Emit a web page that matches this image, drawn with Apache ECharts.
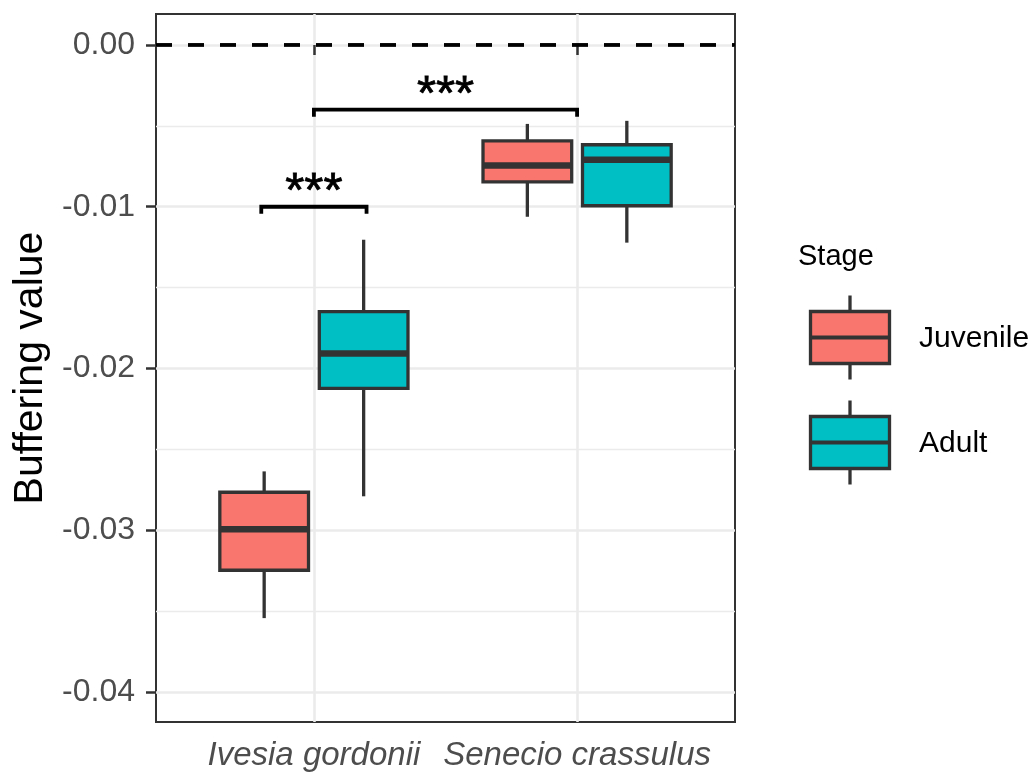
<!DOCTYPE html>
<html><head><meta charset="utf-8">
<script src="https://cdn.jsdelivr.net/npm/echarts@6/dist/echarts.min.js"></script>
<style>html,body{margin:0;padding:0;background:#fff}#c{width:1030px;height:772px}</style>
</head><body><div id="c"></div>
<script>
// ---------- data ----------
const categories = ['Ivesia gordonii', 'Senecio crassulus'];
const stages = ['Juvenile', 'Adult'];
// [lower whisker, Q1, median, Q3, upper whisker] per category
const juvenileStats = [
  [-0.03543, -0.03247, -0.02994, -0.02765, -0.02636],
  [-0.01062, -0.00846, -0.00745, -0.00593, -0.00488]
];
const adultStats = [
  [-0.02790, -0.02123, -0.01907, -0.01648, -0.01204],
  [-0.01222, -0.00994, -0.00710, -0.00617, -0.00469]
];
const yTicks = [0, -0.01, -0.02, -0.03, -0.04];
const yMinorTicks = [-0.005, -0.015, -0.025, -0.035];
const refLineY = [0];
const bracketStart = [0.8, 1.0];
const bracketEnd = [1.2, 2.0];
const bracketY = [-0.010, -0.004];
const bracketLabels = ['***', '***'];

// ---------- style ----------
const FONT = "'Liberation Sans', Arial, Helvetica, sans-serif";
const COLORS = ['#F8766D', '#00BFC4'];
const EDGE = '#333333';
const BOX_W = 0.337;
const DODGE = 0.189;
const Y_MIN = -0.041852, Y_MAX = 0.001914;
const X_MIN = 0.4, X_MAX = 2.6;
const TIP_PX = 7;

function boxRender(offset, color) {
  return function (params, api) {
    const x = api.value(0) + offset;
    const lo = api.coord([x, api.value(1)]);
    const q1 = api.coord([x, api.value(2)]);
    const md = api.coord([x, api.value(3)]);
    const q3 = api.coord([x, api.value(4)]);
    const hi = api.coord([x, api.value(5)]);
    const w = api.size([BOX_W, 0])[0];
    const cx = lo[0];
    const ls = { stroke: EDGE, lineWidth: 3.3 };
    return {
      type: 'group', children: [
        { type: 'line', shape: { x1: cx, y1: hi[1], x2: cx, y2: q3[1] }, style: ls },
        { type: 'line', shape: { x1: cx, y1: q1[1], x2: cx, y2: lo[1] }, style: ls },
        { type: 'rect', shape: { x: cx - w / 2, y: q3[1], width: w, height: q1[1] - q3[1] },
          style: { fill: color, stroke: EDGE, lineWidth: 3.3 } },
        { type: 'line', shape: { x1: cx - w / 2, y1: md[1], x2: cx + w / 2, y2: md[1] },
          style: { stroke: EDGE, lineWidth: 6.5 } }
      ]
    };
  };
}

function bracketRender(params, api) {
  const a = api.coord([api.value(0), api.value(2)]);
  const b = api.coord([api.value(1), api.value(2)]);
  const label = bracketLabels[params.dataIndex];
  return {
    type: 'group', children: [
      { type: 'polyline', shape: { points: [[a[0], a[1] + TIP_PX], [a[0], a[1]], [b[0], b[1]], [b[0], b[1] + TIP_PX]] },
        style: { stroke: '#000', lineWidth: 3.8, fill: null } },
      { type: 'text', x: (a[0] + b[0]) / 2, y: a[1] - 14,
        style: { text: label, fill: '#000', font: '49px ' + FONT, textAlign: 'center', textVerticalAlign: 'middle',
          stroke: '#000', lineWidth: 0.8 } }
    ]
  };
}

function refRender(params, api) {
  const p1 = api.coord([X_MIN, api.value(0)]);
  const p2 = api.coord([X_MAX, api.value(0)]);
  return { type: 'line', shape: { x1: p1[0], y1: p1[1], x2: p2[0], y2: p2[1] },
    style: { stroke: '#000', lineWidth: 3.8, lineDash: [16, 16] } };
}

const chart = echarts.init(document.getElementById('c'), null, { renderer: 'canvas' });

function legendKey(y0, color) {
  // y0 = top of box
  const cx = 850, x0 = 810.5, w = 79, h = 52;
  return [
    { type: 'line', shape: { x1: cx, y1: y0 - 16, x2: cx, y2: y0 }, style: { stroke: EDGE, lineWidth: 3.3 } },
    { type: 'line', shape: { x1: cx, y1: y0 + h, x2: cx, y2: y0 + h + 16 }, style: { stroke: EDGE, lineWidth: 3.3 } },
    { type: 'rect', shape: { x: x0, y: y0, width: w, height: h }, style: { fill: color, stroke: EDGE, lineWidth: 3.3 } },
    { type: 'line', shape: { x1: x0, y1: y0 + h / 2, x2: x0 + w, y2: y0 + h / 2 }, style: { stroke: EDGE, lineWidth: 3.8 } }
  ];
}

const option = {
  animation: false,
  backgroundColor: '#fff',
  grid: { left: 156, top: 14, right: 295, bottom: 49, show: true, borderColor: EDGE, borderWidth: 2, backgroundColor: 'transparent' },
  xAxis: {
    type: 'value', min: X_MIN, max: X_MAX,
    axisLine: { show: false },
    axisTick: { show: true, customValues: [1, 2], length: 10, lineStyle: { color: EDGE, width: 2.5 } },
    axisLabel: { customValues: [1, 2], margin: 17, formatter: v => categories[Math.round(v) - 1] || '',
      color: '#4d4d4d', fontSize: 33, fontStyle: 'italic', fontFamily: FONT },
    splitLine: { show: true, lineStyle: { color: '#ebebeb', width: 2.6 } }
  },
  yAxis: [{
    type: 'value', min: Y_MIN, max: Y_MAX,
    name: 'Buffering value', nameLocation: 'middle', nameGap: 103,
    nameTextStyle: { fontSize: 41, color: '#000', fontFamily: FONT },
    axisLine: { show: false },
    axisTick: { show: true, customValues: yTicks, length: 10, lineStyle: { color: EDGE, width: 2.5 } },
    axisLabel: { customValues: yTicks, margin: 21, formatter: v => v.toFixed(2),
      color: '#4d4d4d', fontSize: 32, fontFamily: FONT },
    splitLine: { show: true, lineStyle: { color: '#ebebeb', width: 2.6 } }
  }, {
    type: 'value', min: Y_MIN, max: Y_MAX, position: 'right',
    axisLine: { show: false }, axisLabel: { show: false },
    axisTick: { show: false, customValues: yMinorTicks },
    splitLine: { show: true, lineStyle: { color: '#ebebeb', width: 1.3 } }
  }],
  series: [
    { type: 'custom', name: 'ref', renderItem: refRender, data: refLineY.map(v => [v]), encode: { y: 0 }, z: 3, silent: true },
    { type: 'custom', name: stages[0], renderItem: boxRender(-DODGE, COLORS[0]),
      data: juvenileStats.map((s, i) => [i + 1].concat(s)), encode: { x: 0, y: [1, 2, 3, 4, 5] }, z: 4 },
    { type: 'custom', name: stages[1], renderItem: boxRender(DODGE, COLORS[1]),
      data: adultStats.map((s, i) => [i + 1].concat(s)), encode: { x: 0, y: [1, 2, 3, 4, 5] }, z: 4 },
    { type: 'custom', name: 'signif', renderItem: bracketRender,
      data: bracketY.map((y, i) => [bracketStart[i], bracketEnd[i], y]), encode: { x: [0, 1], y: 2 }, z: 5, silent: true }
  ],
  graphic: [
    { type: 'text', x: 798, y: 257, style: { text: 'Stage', fill: '#000', font: '29px ' + FONT, textVerticalAlign: 'middle' } },
    { type: 'group', children: legendKey(311.5, COLORS[0]) },
    { type: 'text', x: 919, y: 339, style: { text: stages[0], fill: '#000', font: '30px ' + FONT, textVerticalAlign: 'middle' } },
    { type: 'group', children: legendKey(416.5, COLORS[1]) },
    { type: 'text', x: 919, y: 444, style: { text: stages[1], fill: '#000', font: '30px ' + FONT, textVerticalAlign: 'middle' } }
  ]
};
chart.setOption(option);
</script></body></html>
